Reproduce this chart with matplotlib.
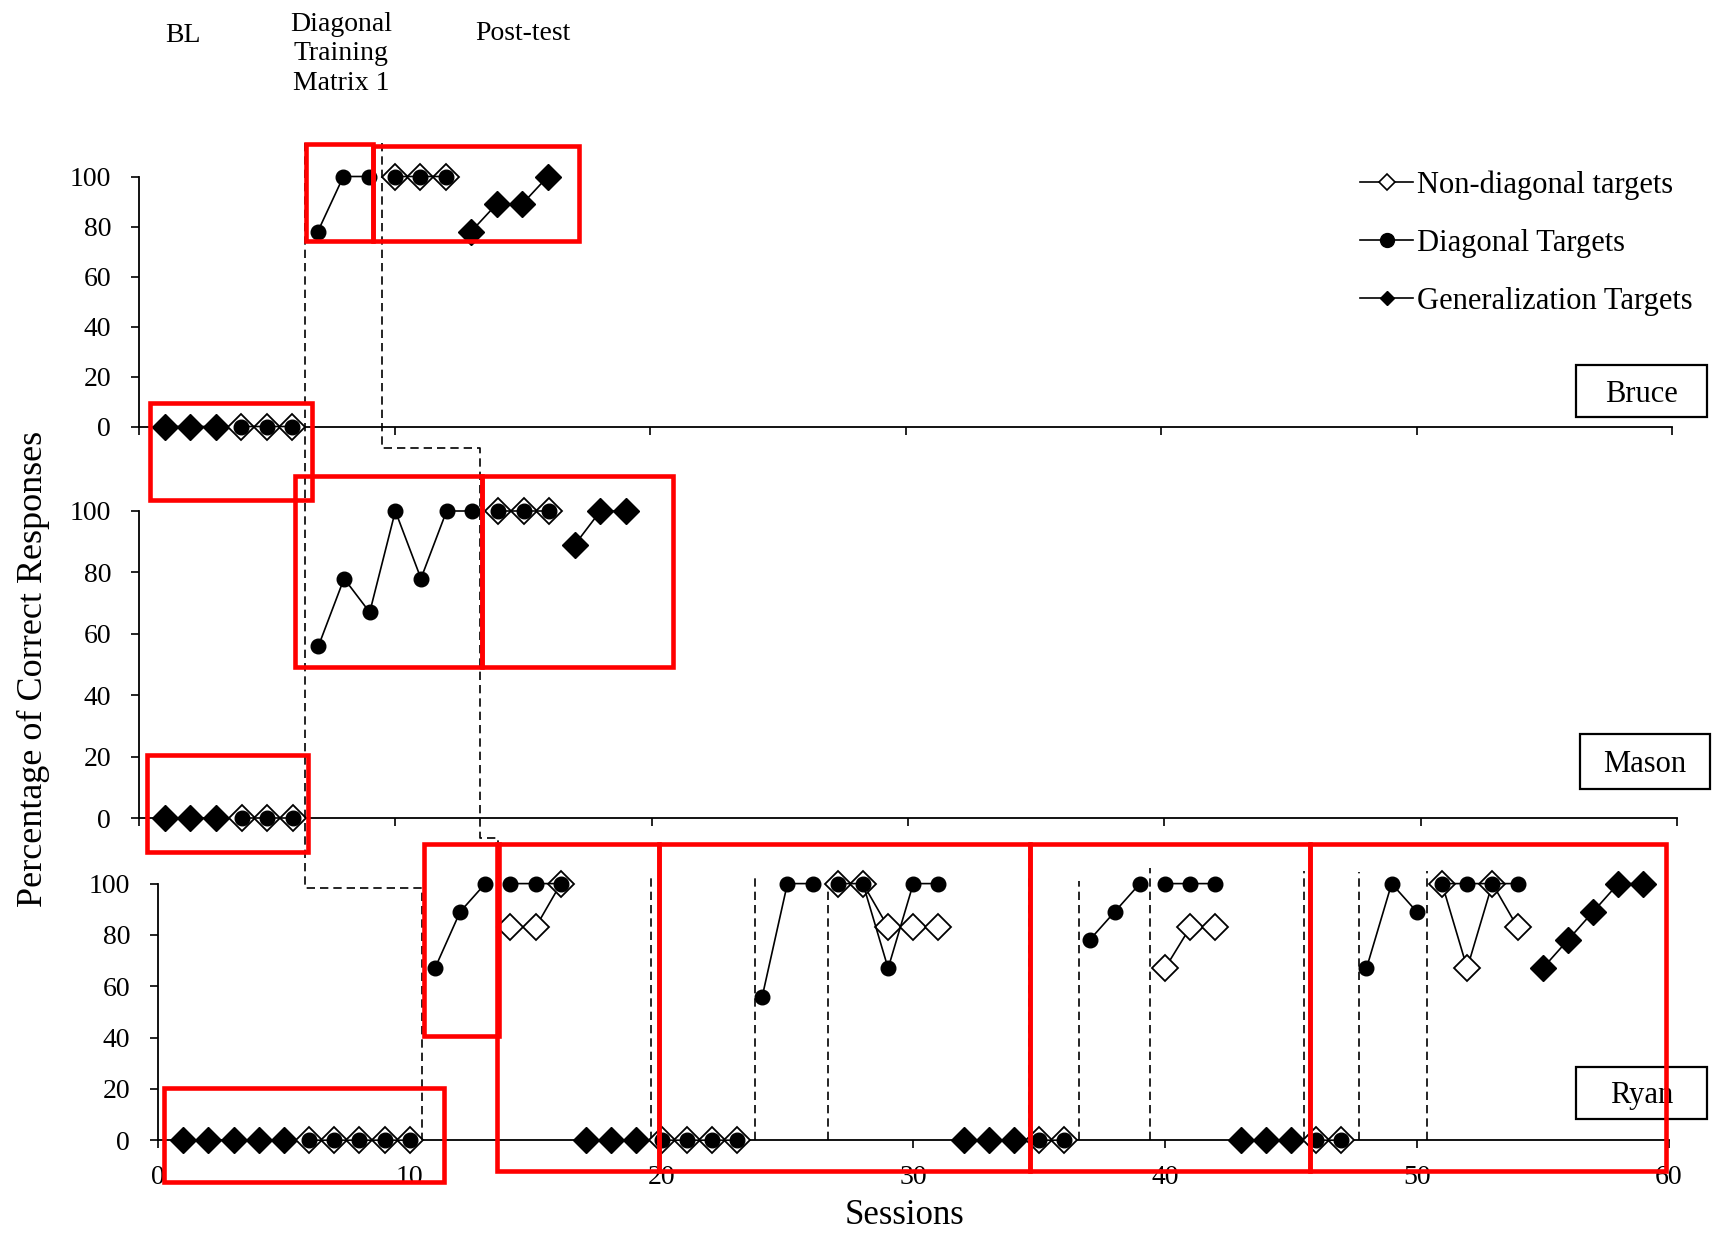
import numpy as np
import matplotlib
matplotlib.use("Agg")
import matplotlib.pyplot as plt
from matplotlib.lines import Line2D
from matplotlib.patches import Rectangle

plt.rcParams['font.family'] = ['Liberation Serif', 'DejaVu Serif']

# ---------------- data ----------------
SESSION_TICKS = [0, 10, 20, 30, 40, 50, 60]
PCT_TICKS = [0, 20, 40, 60, 80, 100]
SERIES_LABELS = ["Non-diagonal targets", "Diagonal Targets", "Generalization Targets"]
PARTICIPANTS = ["Bruce", "Mason", "Ryan"]
PHASE_LABELS = ["BL", "Diagonal\nTraining\nMatrix 1", "Post-test"]
Y_LABEL = "Percentage of Correct Responses"
X_LABEL = "Sessions"

N = None  # break between phases
bruce_nondiag_x = [4, 5, 6, N, 10, 11, 12]
bruce_nondiag_y = [0, 0, 0, N, 100, 100, 100]
bruce_diag_x = [4, 5, 6, N, 7, 8, 9, N, 10, 11, 12]
bruce_diag_y = [0, 0, 0, N, 78, 100, 100, N, 100, 100, 100]
bruce_gen_x = [1, 2, 3, N, 13, 14, 15, 16]
bruce_gen_y = [0, 0, 0, N, 78, 89, 89, 100]

mason_nondiag_x = [4, 5, 6, N, 14, 15, 16]
mason_nondiag_y = [0, 0, 0, N, 100, 100, 100]
mason_diag_x = [4, 5, 6, N, 7, 8, 9, 10, 11, 12, 13, N, 14, 15, 16]
mason_diag_y = [0, 0, 0, N, 56, 78, 67, 100, 78, 100, 100, N, 100, 100, 100]
mason_gen_x = [1, 2, 3, N, 17, 18, 19]
mason_gen_y = [0, 0, 0, N, 89, 100, 100]

ryan_nondiag_x = [6, 7, 8, 9, 10, N, 14, 15, 16, N, 20, 21, 22, 23, N, 27, 28, 29, 30, 31,
                  N, 35, 36, N, 40, 41, 42, N, 46, 47, N, 51, 52, 53, 54]
ryan_nondiag_y = [0, 0, 0, 0, 0, N, 83, 83, 100, N, 0, 0, 0, 0, N, 100, 100, 83, 83, 83,
                  N, 0, 0, N, 67, 83, 83, N, 0, 0, N, 100, 67, 100, 83]
ryan_diag_x = [6, 7, 8, 9, 10, N, 11, 12, 13, N, 14, 15, 16, N, 20, 21, 22, 23, N, 24, 25, 26,
               N, 27, 28, 29, 30, 31, N, 35, 36, N, 37, 38, 39, N, 40, 41, 42, N, 46, 47,
               N, 48, 49, 50, N, 51, 52, 53, 54]
ryan_diag_y = [0, 0, 0, 0, 0, N, 67, 89, 100, N, 100, 100, 100, N, 0, 0, 0, 0, N, 56, 100, 100,
               N, 100, 100, 67, 100, 100, N, 0, 0, N, 78, 89, 100, N, 100, 100, 100, N, 0, 0,
               N, 67, 100, 89, N, 100, 100, 100, 100]
ryan_gen_x = [1, 2, 3, 4, 5, N, 17, 18, 19, N, 32, 33, 34, N, 43, 44, 45, N, 55, 56, 57, 58, 59]
ryan_gen_y = [0, 0, 0, 0, 0, N, 0, 0, 0, N, 0, 0, 0, N, 0, 0, 0, N, 67, 78, 89, 100, 100]

# phase-change lines inside Ryan's panel (session position, top of line in %)
ryan_phase_x = [19.6, 23.7, 26.6, 34.6, 36.6, 39.4, 45.5, 47.7, 50.4]
ryan_phase_top = [103, 103.5, 98, 103, 101, 106, 105, 104.5, 105]

# ---------------- figure ----------------
W, H = 1719, 1234
fig = plt.figure(figsize=(W / 100, H / 100), dpi=100)


def add_axes_px(x0, x60, y0, y100):
    return fig.add_axes([x0 / W, 1 - y0 / H, (x60 - x0) / W, (y0 - y100) / H])


axB = add_axes_px(139, 1672, 426.5, 176.5)
axM = add_axes_px(139, 1677, 818, 511)
axR = add_axes_px(158, 1668.6, 1140.2, 883.6)
axes = [axB, axM, axR]


def arr(v):
    return np.array([np.nan if a is None else a for a in v], dtype=float)


def plot_series(ax, nx, ny, dx, dy, gx, gy):
    kw = dict(color='black', lw=1.2, clip_on=False)
    ax.plot(arr(gx), arr(gy), marker='D', ms=13.5, mfc='black', mec='black', zorder=3, **kw)
    ax.plot(arr(nx), arr(ny), marker='D', ms=13.5, mfc='white', mec='black', mew=1.3,
            zorder=4, **kw)
    ax.plot(arr(dx), arr(dy), marker='o', ms=10.5, mfc='black', mec='black', zorder=5, **kw)


plot_series(axB, bruce_nondiag_x, bruce_nondiag_y, bruce_diag_x, bruce_diag_y,
            bruce_gen_x, bruce_gen_y)
plot_series(axM, mason_nondiag_x, mason_nondiag_y, mason_diag_x, mason_diag_y,
            mason_gen_x, mason_gen_y)
plot_series(axR, ryan_nondiag_x, ryan_nondiag_y, ryan_diag_x, ryan_diag_y,
            ryan_gen_x, ryan_gen_y)

for ax in axes:
    ax.set_xlim(0, 60)
    ax.set_ylim(0, 100)
    ax.patch.set_alpha(0)
    for s in ['top', 'right']:
        ax.spines[s].set_visible(False)
    for s in ['left', 'bottom']:
        ax.spines[s].set_linewidth(1.3)
    ax.set_xticks(SESSION_TICKS)
    ax.set_yticks(PCT_TICKS)
    ax.tick_params(axis='y', direction='out', length=6, width=1.2, labelsize=20, pad=14)
    ax.tick_params(axis='x', direction='out', length=6, width=1.2, labelsize=20, pad=12)
axB.tick_params(axis='x', labelbottom=False)
axM.tick_params(axis='x', labelbottom=False)

DASH = (0, (5, 3))
for x, top in zip(ryan_phase_x, ryan_phase_top):
    axR.plot([x, x], [0, top], color='black', lw=1.2, ls=DASH, clip_on=False, zorder=2)

inv = fig.transFigure.inverted()


def fx(ax, x):
    return inv.transform(ax.transData.transform((x, 0)))[0]


def fy(ax, y):
    return inv.transform(ax.transData.transform((0, y)))[1]


# staircase phase-change lines across participants
st1_x = [fx(axB, 6.5), fx(axB, 6.5), fx(axR, 10.5), fx(axR, 10.5)]
st1_y = [fy(axB, 113.6), fy(axR, 98.3), fy(axR, 98.3), fy(axR, 0)]
st2_x = [fx(axB, 9.5), fx(axB, 9.5), fx(axM, 13.3), fx(axM, 13.3), fx(axR, 13.5), fx(axR, 13.5)]
st2_y = [fy(axB, 113.6), fy(axB, -8.6), fy(axB, -8.6), fy(axR, 117.8), fy(axR, 117.8), fy(axR, 0)]
for xs, ys in [(st1_x, st1_y), (st2_x, st2_y)]:
    fig.add_artist(Line2D(xs, ys, transform=fig.transFigure, color='black', lw=1.2, ls=DASH,
                          zorder=3))

# axis labels
fig.text(33 / W, 1 - 669 / H, Y_LABEL, rotation=90, ha='center', va='center', fontsize=26)
fig.text(904 / W, 1 - 1216 / H, X_LABEL, ha='center', va='center', fontsize=25)

# phase labels
phase_pos = [(183, 35), (341, 54), (523, 33)]
for lab, (px, py) in zip(PHASE_LABELS, phase_pos):
    fig.text(px / W, 1 - py / H, lab, ha='center', va='center', fontsize=20, linespacing=1.25)

# participant name boxes
name_boxes = [(1576, 365, 1707, 417), (1580, 734, 1710, 789), (1576, 1067, 1707, 1119)]
for name, (x0, y0, x1, y1) in zip(PARTICIPANTS, name_boxes):
    fig.add_artist(Rectangle((x0 / W, 1 - y1 / H), (x1 - x0) / W, (y1 - y0) / H,
                             transform=fig.transFigure, fill=False, ec='black', lw=1.6,
                             zorder=4))
    fig.text((x0 + x1) / 2 / W, 1 - ((y0 + y1) / 2 + 3) / H, name, ha='center', va='center',
             fontsize=22)

# legend
handles = [
    Line2D([], [], color='black', lw=1.2, marker='D', ms=8, mfc='white', mec='black', mew=1.2),
    Line2D([], [], color='black', lw=1.2, marker='o', ms=10, mfc='black', mec='black'),
    Line2D([], [], color='black', lw=1.2, marker='D', ms=7, mfc='black', mec='black'),
]
fig.legend(handles, SERIES_LABELS, loc='upper left', bbox_to_anchor=(1360 / W, 1 - 170 / H),
           frameon=False, fontsize=22, handlelength=1.75, handletextpad=0.12,
           labelspacing=0.95, borderpad=0, borderaxespad=0)

# red highlight boxes (annotation overlay)
red_boxes = [
    (306, 144, 373, 241), (373, 146, 579, 241), (150, 403, 312, 500),
    (295, 476, 482, 667), (482, 476, 673, 667), (147, 755, 308, 852),
    (424, 844, 499, 1036), (497, 844, 659, 1171), (659, 844, 1030, 1171),
    (1030, 844, 1310, 1171), (1310, 844, 1666, 1171), (164, 1088, 444, 1182),
]
for (x0, y0, x1, y1) in red_boxes:
    fig.add_artist(Rectangle((x0 / W, 1 - y1 / H), (x1 - x0) / W, (y1 - y0) / H,
                             transform=fig.transFigure, fill=False, ec='#ff0000', lw=3.3,
                             zorder=10))

fig.savefig("out.png", dpi=100)
